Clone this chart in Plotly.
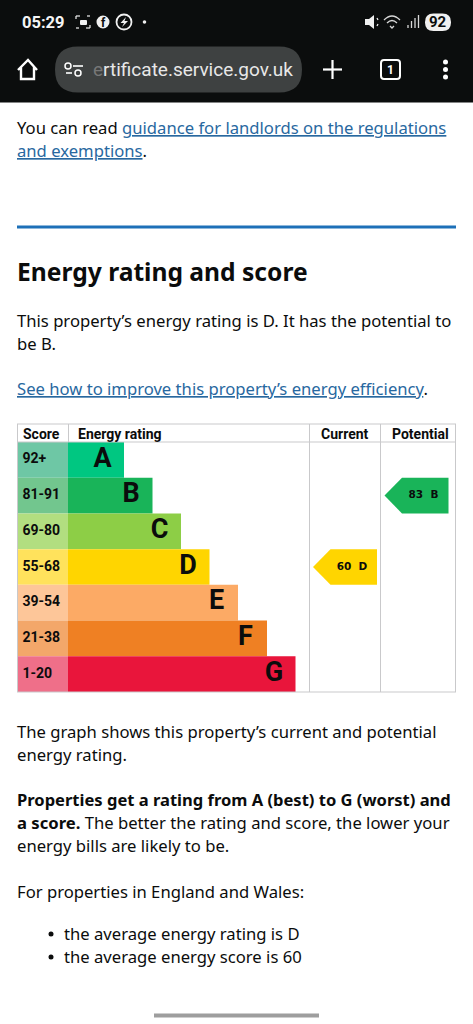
import plotly.graph_objects as go

W, H = 473, 1024
scores = ["92+", "81-91", "69-80", "55-68", "39-54", "21-38", "1-20"]
ratings = ["A", "B", "C", "D", "E", "F", "G"]
bar_lengths = [56, 84.5, 113, 141.5, 170, 199, 227.5]
bar_colors = ["#00c781", "#19b459", "#8dce46", "#ffd500", "#fcaa65", "#ef8023", "#e9153b"]
score_colors = ["#6ec7a5", "#72c68e", "#b2de80", "#ffe25c", "#fdc699", "#f3a76a", "#ef6f89"]
current_score, current_rating = 60, "D"
potential_score, potential_rating = 83, "B"

FONT = "Noto Sans"
CH = "Roboto"
BLUE = "#1d70b8"
LINK = "#28689f"
INK = "#0b0c0c"

fx = lambda p: p / W
fy = lambda p: 1 - p / H

fig = go.Figure()
idx = list(range(7))
SCORE_W = 51
fig.add_bar(y=idx, x=[SCORE_W] * 7, base=[-SCORE_W] * 7, orientation="h", width=1,
            marker=dict(color=score_colors, line_width=0), hoverinfo="skip")
fig.add_bar(y=idx, x=bar_lengths, base=[0] * 7, orientation="h", width=1,
            marker=dict(color=bar_colors, line_width=0), hoverinfo="skip")
fig.add_scatter(y=idx, x=[-45.5] * 7, mode="text", text=scores, textposition="middle right",
                textfont=dict(family=CH, size=14, color=INK, weight=700), hoverinfo="skip")
fig.add_scatter(y=idx, x=[v - 21.5 for v in bar_lengths], mode="text", text=ratings, textposition="middle center",
                textfont=dict(family=CH, size=27, color=INK, weight=700), hoverinfo="skip")


def arrow(left, rating, score):
    r = ratings.index(rating)
    xs = [left, left + 17.5, left + 64, left + 64, left + 17.5, left]
    ys = [r, r - 0.5, r - 0.5, r + 0.5, r + 0.5, r]
    c = bar_colors[r]
    fig.add_scatter(x=xs, y=ys, mode="lines", fill="toself", fillcolor=c, line=dict(color=c, width=0), hoverinfo="skip")
    fig.add_scatter(x=[left + 39], y=[r], mode="text", text=[f"{score}  {rating}"], textposition="middle center",
                    textfont=dict(family="DejaVu Sans", size=10.5, color=INK, weight=700), hoverinfo="skip")


arrow(245, current_rating, current_score)
arrow(316.5, potential_rating, potential_score)

shapes = []
LINE = "#c9c9cb"


def pline(x0, y0, x1, y1, c=LINE, w=1):
    shapes.append(dict(type="line", xref="paper", yref="paper", x0=fx(x0), y0=fy(y0), x1=fx(x1), y1=fy(y1),
                       line=dict(color=c, width=w), layer="above"))


def ppath(pts, fill=None, line=None, w=1.5):
    d = ""
    for p in pts:
        if isinstance(p, str):
            d += p + " "
        else:
            d += f"{fx(p[0])},{fy(p[1])} "
    s = dict(type="path", xref="paper", yref="paper", path=d.strip(), layer="above")
    if fill:
        s["fillcolor"] = fill
    if line:
        s["line"] = dict(color=line, width=w)
    else:
        s["line_width"] = 0
    shapes.append(s)


def pcirc(x, y, r, fill=None, line=None, w=1.5):
    s = dict(type="circle", xref="paper", yref="paper", x0=fx(x - r), x1=fx(x + r), y0=fy(y + r), y1=fy(y - r), layer="above")
    if fill:
        s["fillcolor"] = fill
    if line:
        s["line"] = dict(color=line, width=w)
    else:
        s["line_width"] = 0
    shapes.append(s)


def rrect(x0, y0, x1, y1, r, fill=None, line=None, w=1.5):
    ppath(["M", (x0 + r, y0), "L", (x1 - r, y0), "Q", (x1, y0), (x1, y0 + r), "L", (x1, y1 - r), "Q", (x1, y1), (x1 - r, y1),
           "L", (x0 + r, y1), "Q", (x0, y1), (x0, y1 - r), "L", (x0, y0 + r), "Q", (x0, y0), (x0 + r, y0), "Z"], fill, line, w)


shapes.append(dict(type="rect", xref="paper", yref="paper", x0=0, x1=1, y0=fy(102.5), y1=1, fillcolor="#0b0d0d", line_width=0, layer="below"))
rrect(55, 46.5, 302, 92.5, 23, "#3e4141")
# home icon
ppath(["M", (18, 70), "L", (28, 60), "L", (37, 70), "M", (21, 67), "L", (21, 79), "L", (34, 79), "L", (34, 67)], None, "white", 2.4)
# site settings icon
pline(73, 66, 83, 66, "white", 1.6)
pline(66, 73, 72, 73, "white", 1.6)
pcirc(68, 66, 3, None, "white", 1.5)
pcirc(78, 73, 3, None, "white", 1.5)
# plus
pline(323, 69.5, 342, 69.5, "white", 2.2)
pline(332.5, 60, 332.5, 79, "white", 2.2)
# tabs
rrect(381, 60, 400, 79, 3, None, "white", 2)
# dots
for yy in (62, 69.5, 77):
    pcirc(445.5, yy, 2.5, "white")
# status icons: screenshot, facebook, messenger, dot
for a, b, c_, d_ in ((76, 19, 76, 16), (76, 16, 80, 16), (90, 28, 90, 25), (90, 28, 86, 28), (87, 16, 90, 16), (76, 28, 79, 28)):
    pline(a, b, c_, d_, "#f0f0f0", 1.2)
rrect(80, 20, 87, 25, 1, "#f0f0f0")
pcirc(103, 22, 6.5, "#f0f0f0")
pcirc(124, 22, 7.5, None, "#f0f0f0", 1.8)
ppath(["M", (126, 17), "L", (120.5, 23), "L", (124, 23), "L", (122, 27), "L", (128, 21), "L", (124.5, 21), "Z"], "#f0f0f0")
pcirc(144.5, 22, 1.8, "#f0f0f0")
# right status icons
rrect(425, 13.5, 451, 31, 8.5, "#f0f0f0")
for i, hh in enumerate((3, 7, 10, 13)):
    pline(408 + i * 3.5, 28, 408 + i * 3.5, 28 - hh, "#d8d8d8", 1.3)
ppath(["M", (365, 19), "L", (369, 19), "L", (374, 15), "L", (374, 29), "L", (369, 25), "L", (365, 25), "Z"], "#f0f0f0")
pline(377, 18, 378, 20, "#f0f0f0", 1.2)
pline(378, 24, 377, 26, "#f0f0f0", 1.2)
ppath(["M", (384, 20), "Q", (392, 12), (400, 20), "M", (387, 23), "Q", (392, 18), (397, 23), "M", (390, 26), "L", (392, 28), "L", (394, 26)], None, "#d8d8d8", 1.3)

pline(17, 227, 456, 227, BLUE, 3)
# chart frame
for x in (17.5, 309.5, 380.5, 455.5):
    pline(x, 424, x, 692)
pline(68.5, 424, 68.5, 442)
pline(17, 424, 456, 424)
pline(17, 442, 456, 442)
pline(17, 692, 456, 692)
pline(154, 1015.5, 319, 1015.5, "#9e9e9e", 4)

ann = []


def T(x, y, s, size=16.65, family=FONT, color=INK, anchor="left"):
    ann.append(dict(xref="paper", yref="paper", x=fx(x), y=fy(y), text=s, showarrow=False, xanchor=anchor,
                    yanchor="middle", borderpad=0, font=dict(family=family, size=size, color=color)))


def link(s):
    return f'<span style="color:{LINK}"><u>{s}</u></span>'


T(16, 127, "You can read " + link("guidance for landlords on the regulations"))
T(16, 150, link("and exemptions") + ".")
T(16, 271, "<b>Energy rating and score</b>", size=24.6)
T(16, 320, "This property’s energy rating is D. It has the potential to")
T(16, 343, "be B.")
T(16, 388, link("See how to improve this property’s energy efficiency") + ".")
T(16, 731, "The graph shows this property’s current and potential")
T(16, 754, "energy rating.")
T(16, 799, "<b>Properties get a rating from A (best) to G (worst) and</b>", size=16.55)
T(16, 822, "<b>a score.</b> The better the rating and score, the lower your")
T(16, 845, "energy bills are likely to be.")
T(16, 891, "For properties in England and Wales:")
T(63, 933, "the average energy rating is D")
T(63, 956, "the average energy score is 60")
for yy in (934, 957):
    pcirc(51, yy, 2.5, INK)
T(22, 433.5, "<b>Score</b>", size=14, family=CH)
T(77, 433.5, "<b>Energy rating</b>", size=14, family=CH)
T(345, 433.5, "<b>Current</b>", size=14, family=CH, anchor="center")
T(420, 433.5, "<b>Potential</b>", size=14, family=CH, anchor="center")
T(21, 22, "<b>05:29</b>", size=16.5, family=CH, color="#f5f5f5")
T(438, 22, "<b>92</b>", size=15, family=CH, color="#0b0d0d", anchor="center")
T(91.5, 69, '<span style="color:#777">e</span>rtificate.service.gov.uk', size=19, family="Roboto", color="#e8e8e8")
T(390.5, 69.5, "<b>1</b>", size=12, family=CH, color="white", anchor="center")
T(103, 23, "<b>f</b>", size=12, family=CH, color="#0b0d0d", anchor="center")

fig.update_layout(width=W, height=H, margin=dict(l=0, r=0, t=0, b=0), paper_bgcolor="white", plot_bgcolor="rgba(0,0,0,0)",
                  showlegend=False, barmode="overlay", shapes=shapes, annotations=ann, hovermode=False,
                  xaxis=dict(domain=[fx(17), fx(456)], range=[-51, 388], visible=False, fixedrange=True),
                  yaxis=dict(domain=[fy(692), fy(424)], range=[6.5, -1.004], visible=False, fixedrange=True))
fig.write_html("out.html", config=dict(displayModeBar=False),
               post_script="document.body.style.margin='0';document.body.style.overflow='hidden';")
